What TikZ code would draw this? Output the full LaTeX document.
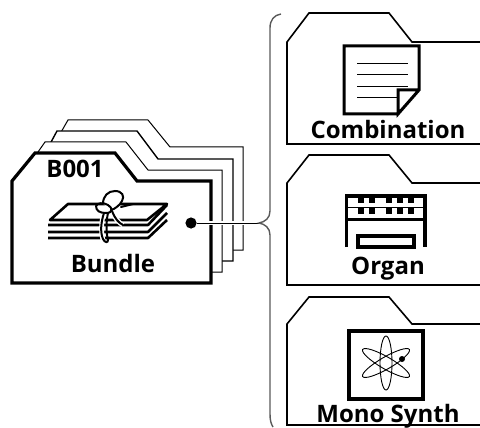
\documentclass[tikz,border=0pt]{standalone}
\usepackage{fontspec}
\setmainfont{Open Sans}
\tikzset{
  x=0.5pt,y=-0.5pt,
  lbl/.style={inner sep=0pt,anchor=base,font=\fontsize{12pt}{13pt}\selectfont\bfseries},
  backcard/.style={draw=black,line width=0.5pt,fill=white},
  maincard/.style={draw=black,line width=1.6pt,fill=white,line join=miter},
  panel/.style={draw=black,line width=0.8pt,fill=white},
  icon/.style={draw=black,line width=1.5pt},
  thin1/.style={draw=black,line width=0.45pt},
  sheet/.style={draw=black,line width=1.3pt,line join=round},
  knot/.style={draw=black,line width=1pt,line cap=round},
}
\begin{document}
\begin{tikzpicture}
\useasboundingbox (0,0) rectangle (480,427);
% stacked cards
\draw[backcard] (60,134) -- (68,120) -- (148,120) -- (170,147) -- (243,147) -- (243,250) -- (225,250);
\draw[backcard,line width=0.7pt] (50,144) -- (57,131) -- (137,131) -- (158,159) -- (233,159) -- (233,261) -- (215,261);
\draw[backcard] (38,152) -- (45,142) -- (126,142) -- (148,170) -- (222,170) -- (222,272) -- (205,272);
\draw[maincard] (12,181) -- (35,153) -- (115,153) -- (137,181) -- (211,181) -- (211,283) -- (12,283) -- cycle;
\node[lbl] (bankname) at (75,177) {B001};
\node[lbl] (bundlename) at (113,272) {Bundle};
% papers
\foreach \yy/\ee in {225/205,232/213,238/220}
  \draw[sheet] (48,\yy) -- (148,\yy) -- (167,\ee);
\draw[sheet,fill=white] (50,220) -- (68,204) -- (167,204) -- (147,220) -- cycle;
% string
\draw[white,line width=2.4pt] (104,212) .. controls (101,222) and (101,232) .. (103,240);
\draw[knot] (104,213) .. controls (101,222) and (100,232) .. (103,239) .. controls (105,243) and (108,243) .. (108,240);
\draw[knot] (108,213) .. controls (106,222) and (106,232) .. (108,240);
\draw[white,line width=2.4pt] (112,211) .. controls (115,219) and (119,223) .. (123,225);
\draw[knot] (112,211) .. controls (115,219) and (119,223) .. (123,225);
\draw[knot,fill=white] (103,204) .. controls (103,196) and (108,191) .. (115,191) .. controls (122,191) and (125,196) .. (122,201) .. controls (120,205) and (115,209) .. (111,210);
\draw[knot] (96,206) .. controls (97,203) and (103,202) .. (108,205) .. controls (113,208) and (113,213) .. (106,213) .. controls (100,213) and (96,211) .. (96,206);
\draw[knot] (121,207) -- (133,204);
% connector
\node[circle,fill=black,inner sep=0pt,minimum size=5.6pt] (jack) at (191,223) {};
\coordinate (tip) at (259,223);
\draw[white,line width=2.2pt] (jack) -- (tip);
\draw[black,line width=0.5pt] (jack) -- (tip);
% brace
\draw[black!65,line width=0.7pt] (281,14) .. controls (274,15) and (270,20) .. (270,28) -- (270,211) .. controls (270,218) and (265,222) .. (tip) .. controls (265,224) and (270,228) .. (270,235) -- (270,414) .. controls (270,420) and (271,424) .. (273,427);
% Combination
\draw[panel] (480,42) -- (412,42) -- (389,13) -- (309,13) -- (287,42) -- (287,144) -- (480,144);
\draw[icon] (398,114) -- (344,114) -- (344,46) -- (419,46) -- (419,90) -- (398,114) -- (398,90) -- (419,90);
\foreach \yy/\xx in {63/408,74/408,86/408,97/398}
  \draw[thin1] (357,\yy) -- (\xx,\yy);
\node[lbl] (combiname) at (388,139) {Combination};
% Organ
\draw[panel] (480,183) -- (412,183) -- (389,155) -- (309,155) -- (287,183) -- (287,285) -- (480,285);
\draw[icon,line width=1.6pt] (346.5,247) -- (346.5,196) -- (425,196) -- (425,247);
\draw[icon,line width=1.5pt] (346.5,219) -- (425,219);
\draw[icon,line width=1.75pt] (358,236) rectangle (414,247);
\foreach \yy in {197,208}
  \foreach \xx in {360.5,371.5,389,400,411}
    \fill (\xx-3,\yy) rectangle (\xx+3,\yy+5.5);
\draw[thin1] (346.5,207) -- (425,207);
\node[lbl] (organname) at (388,274) {Organ};
% Mono Synth
\draw[panel] (480,324) -- (412,324) -- (389,297) -- (309,297) -- (287,324) -- (287,425) -- (480,425);
\draw[icon,line width=1.6pt] (349,331) rectangle (423,399);
\foreach \ang in {0,60,-60}
  \draw[thin1,rotate around={\ang:(386,363)}] (386,363) ellipse (6 and 27);
\fill (402,359) circle (3);
\node[lbl] (synthname) at (388,422) {Mono Synth};
\end{tikzpicture}
\end{document}
